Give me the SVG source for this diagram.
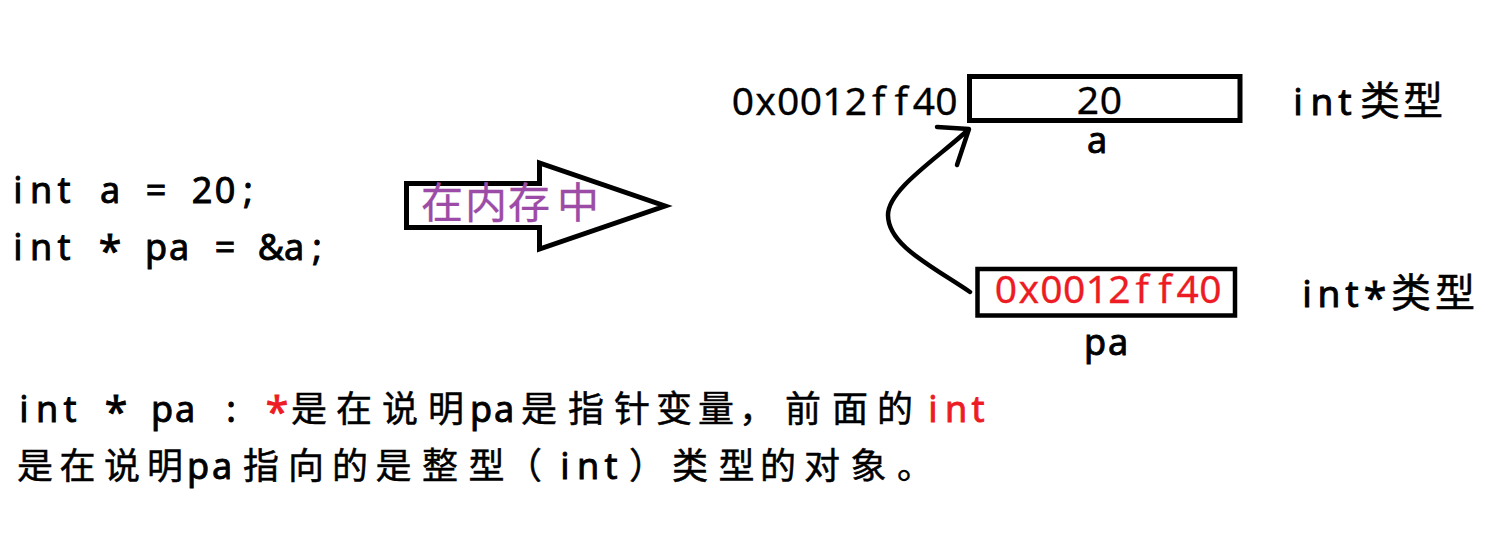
<svg xmlns="http://www.w3.org/2000/svg" width="1489" height="537" viewBox="0 0 1489 537">
<style>
text { font-family: "Noto Sans", "Noto Sans CJK SC", sans-serif; text-anchor: middle; fill: #000; stroke: #000; stroke-width: 0.9px; }
.s36 { font-size: 36px; }
.s39 { font-size: 39px; }
.thin { stroke-width: 0.3px; }
.cjk { font-family: "Noto Sans CJK SC", sans-serif; stroke-width: 0.5px; }
.red { fill: #ED1C24; stroke: #ED1C24; }
.star { font-size: 41px; }
.box { fill: #fff; stroke: #000; }
.line { fill: none; stroke: #000; stroke-width: 4.5; stroke-linecap: round; stroke-linejoin: round; }
</style>
<rect width="1489" height="537" fill="#fff"/>

<g id="code">
  <text class="s36" y="203" x="18 41 64 87 110 133 156 179 202 225 248">int a = 20;</text>
  <text class="s36" y="260"><tspan x="18 41 64 87">int </tspan><tspan class="star" x="110" y="266">*</tspan><tspan x="133 156 179 202 225 248 271 294 317" y="260"> pa = &amp;a;</tspan></text>
</g>

<g id="memory-arrow">
  <polygon points="406.5,183.5 539.5,183.5 539.5,163 665,206 539.5,249 539.5,227.5 406.5,227.5" fill="#fff" stroke="#000" stroke-width="5" stroke-linejoin="miter"/>
  <text class="cjk" y="218" style="font-size:42px;fill:#9C4BA6;stroke:#9C4BA6;stroke-width:0.3px" x="442 486 529 578">在内存中</text>
</g>

<g id="var-a">
  <text class="s39 thin" y="115" x="743 765.6 788.2 810.8 833.4 856 878.6 901.2 923.8 946.4">0x0012ff40</text>
  <rect class="box" x="969.5" y="76.5" width="270.5" height="44" stroke-width="5"/>
  <text class="s39 thin" y="114" x="1088 1111">20</text>
  <text class="s36" y="153" x="1097">a</text>
  <text y="115"><tspan style="font-size:37px" x="1298 1322 1345">int</tspan><tspan class="cjk" style="font-size:40px" x="1380 1423">类型</tspan></text>
</g>

<g id="var-pa">
  <rect class="box" x="977.5" y="269" width="257.5" height="46.5" stroke-width="4.5"/>
  <text class="s39 red thin" y="303" x="1006 1028.7 1051.4 1074.1 1096.8 1119.5 1142.2 1164.9 1187.6 1210.3">0x0012ff40</text>
  <text class="s36" y="355" x="1095 1118">pa</text>
  <text y="307"><tspan style="font-size:37px" x="1307 1329 1352">int</tspan><tspan class="star" x="1375" y="313">*</tspan><tspan class="cjk" style="font-size:40px" x="1411 1455" y="307">类型</tspan></text>
</g>

<g id="connectors">
  <path class="line" d="M970,292 C930,265 888,245 888,215 C888,190 935,160 968,130"/>
  <path class="line" d="M937,127 L969,129 L957,165"/>
</g>

<g id="explanation">
  <text class="s36" y="422"><tspan x="24 47 70 93">int </tspan><tspan class="star" x="116" y="427">*</tspan><tspan x="139 162 185 208 231 254" y="422"> pa : </tspan><tspan class="star red" x="277" y="427">*</tspan><tspan class="cjk" y="422" x="309 354 400 446">是在说明</tspan><tspan x="481 504">pa</tspan><tspan class="cjk" x="539 586 632 674 716 757 803 850 895">是指针变量，前面的</tspan><tspan class="red" x="933 956 978">int</tspan></text>
  <text class="s36" y="479"><tspan class="cjk" x="35 77.5 122 165">是在说明</tspan><tspan x="198 222">pa</tspan><tspan class="cjk" x="261 306 350 393.5 440 486.5 524">指向的是整型（</tspan><tspan x="565 588 611">int</tspan><tspan class="cjk" x="647 690 736.5 778 822 868.5 915">）类型的对象。</tspan></text>
</g>
</svg>
